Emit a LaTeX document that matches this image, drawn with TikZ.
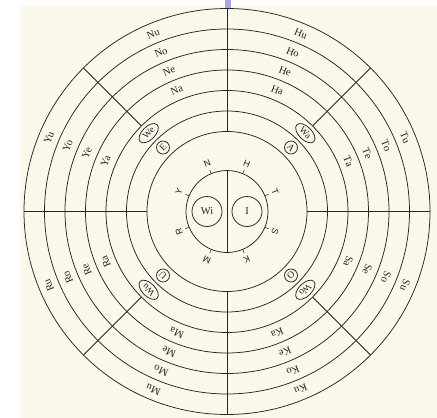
\documentclass[tikz,border=0pt]{standalone}
\usepackage{fontspec}
\setmainfont{Liberation Serif}
\setsansfont{Liberation Sans}
\usetikzlibrary{shapes.geometric}
\definecolor{paper}{RGB}{249,248,234}
\definecolor{ink}{RGB}{38,38,34}
\definecolor{marker}{RGB}{168,166,226}

\begin{document}
\begin{tikzpicture}[
  x=1pt, y=1pt, line width=0.75pt, color=ink,
  syl/.style={inner sep=0pt,font=\fontsize{10.5}{12}\selectfont},
  wsyl/.style={ellipse,draw,inner sep=0pt,minimum width=24pt,minimum height=13pt,font=\fontsize{9.5}{11}\selectfont},
  vowel/.style={circle,draw,inner sep=0pt,minimum size=13pt,font=\fontsize{9.5}{11}\selectfont},
  cons/.style={inner sep=0pt,font=\sffamily\fontsize{9}{10}\selectfont},
  hub/.style={circle,draw,inner sep=0pt,minimum size=30pt,font=\fontsize{10.5}{12}\selectfont},
  notch/.style={line width=0.5pt}
]
  \useasboundingbox (-227,-206.5) rectangle (210,211.5);
  \fill[white] (-227,-206.5) rectangle (210,211.5);
  \fill[paper] (-207,-206.5) rectangle (210,205);
  \fill[marker] (-2,202) rectangle (4,211.5);

  % rings
  \draw (0,0) circle[radius=203pt];
  \draw (0,0) circle[radius=182.5pt];
  \draw (0,0) circle[radius=162pt];
  \draw (0,0) circle[radius=141.5pt];
  \draw (0,0) circle[radius=121pt];
  \draw (0,0) circle[radius=100.5pt];
  \draw (0,0) circle[radius=80pt];
  \draw (0,0) circle[radius=41pt];

  % dividers
  \draw (90:80) -- (90:203);
  \draw (180:80) -- (180:203);
  \draw (270:80) -- (270:203);
  \draw (0:80) -- (0:203);
  \draw (45:121) -- (45:203);
  \draw (135:121) -- (135:203);
  \draw (225:121) -- (225:203);
  \draw (315:121) -- (315:203);
  \draw (90:41) -- (270:41);

  % notches on the hub
  \draw[notch] (22.5:41) -- (22.5:45);
  \draw[notch] (67.5:41) -- (67.5:45);
  \draw[notch] (112.5:41) -- (112.5:45);
  \draw[notch] (157.5:41) -- (157.5:45);
  \draw[notch] (202.5:41) -- (202.5:45);
  \draw[notch] (247.5:41) -- (247.5:45);
  \draw[notch] (292.5:41) -- (292.5:45);
  \draw[notch] (337.5:41) -- (337.5:45);

  % hub
  \node[hub] (Wi) at (-20,0) {Wi};
  \node[hub] (I) at (20,0) {I};
  \node[cons,rotate=22.5] (N) at (112.5:52) {N};
  \node[cons,rotate=-22.5] (H) at (67.5:52) {H};
  \node[cons,rotate=-67.5] (T) at (22.5:52) {T};
  \node[cons,rotate=-112.5] (S) at (-22.5:52) {S};
  \node[cons,rotate=-157.5] (K) at (-67.5:52) {K};
  \node[cons,rotate=157.5] (M) at (247.5:52) {M};
  \node[cons,rotate=112.5] (R) at (202.5:52) {R};
  \node[cons,rotate=67.5] (Y) at (157.5:52) {Y};

  % vowels
  \node[vowel,rotate=-45] (A) at (45:90.5) {A};
  \node[vowel,rotate=45] (E) at (135:90.5) {E};
  \node[vowel,rotate=135] (U) at (225:90.5) {U};
  \node[vowel,rotate=-135] (O) at (315:90.5) {O};
  \node[wsyl,rotate=-45] (Wa) at (45:110.75) {Wa};
  \node[wsyl,rotate=45] (We) at (135:110.75) {We};
  \node[wsyl,rotate=135] (Wu) at (225:110.75) {Wu};
  \node[wsyl,rotate=-135] (Wo) at (315:110.75) {Wo};

  % syllables
  \node[syl,rotate=22.5] (Na) at (112.5:131.25) {Na};
  \node[syl,rotate=22.5] (Ne) at (112.5:151.75) {Ne};
  \node[syl,rotate=22.5] (No) at (112.5:172.25) {No};
  \node[syl,rotate=22.5] (Nu) at (112.5:192.75) {Nu};
  \node[syl,rotate=-22.5] (Ha) at (67.5:131.25) {Ha};
  \node[syl,rotate=-22.5] (He) at (67.5:151.75) {He};
  \node[syl,rotate=-22.5] (Ho) at (67.5:172.25) {Ho};
  \node[syl,rotate=-22.5] (Hu) at (67.5:192.75) {Hu};
  \node[syl,rotate=-67.5] (Ta) at (22.5:131.25) {Ta};
  \node[syl,rotate=-67.5] (Te) at (22.5:151.75) {Te};
  \node[syl,rotate=-67.5] (To) at (22.5:172.25) {To};
  \node[syl,rotate=-67.5] (Tu) at (22.5:192.75) {Tu};
  \node[syl,rotate=-112.5] (Sa) at (-22.5:131.25) {Sa};
  \node[syl,rotate=-112.5] (Se) at (-22.5:151.75) {Se};
  \node[syl,rotate=-112.5] (So) at (-22.5:172.25) {So};
  \node[syl,rotate=-112.5] (Su) at (-22.5:192.75) {Su};
  \node[syl,rotate=-157.5] (Ka) at (-67.5:131.25) {Ka};
  \node[syl,rotate=-157.5] (Ke) at (-67.5:151.75) {Ke};
  \node[syl,rotate=-157.5] (Ko) at (-67.5:172.25) {Ko};
  \node[syl,rotate=-157.5] (Ku) at (-67.5:192.75) {Ku};
  \node[syl,rotate=157.5] (Ma) at (247.5:131.25) {Ma};
  \node[syl,rotate=157.5] (Me) at (247.5:151.75) {Me};
  \node[syl,rotate=157.5] (Mo) at (247.5:172.25) {Mo};
  \node[syl,rotate=157.5] (Mu) at (247.5:192.75) {Mu};
  \node[syl,rotate=112.5] (Ra) at (202.5:131.25) {Ra};
  \node[syl,rotate=112.5] (Re) at (202.5:151.75) {Re};
  \node[syl,rotate=112.5] (Ro) at (202.5:172.25) {Ro};
  \node[syl,rotate=112.5] (Ru) at (202.5:192.75) {Ru};
  \node[syl,rotate=67.5] (Ya) at (157.5:131.25) {Ya};
  \node[syl,rotate=67.5] (Ye) at (157.5:151.75) {Ye};
  \node[syl,rotate=67.5] (Yo) at (157.5:172.25) {Yo};
  \node[syl,rotate=67.5] (Yu) at (157.5:192.75) {Yu};
\end{tikzpicture}
\end{document}
